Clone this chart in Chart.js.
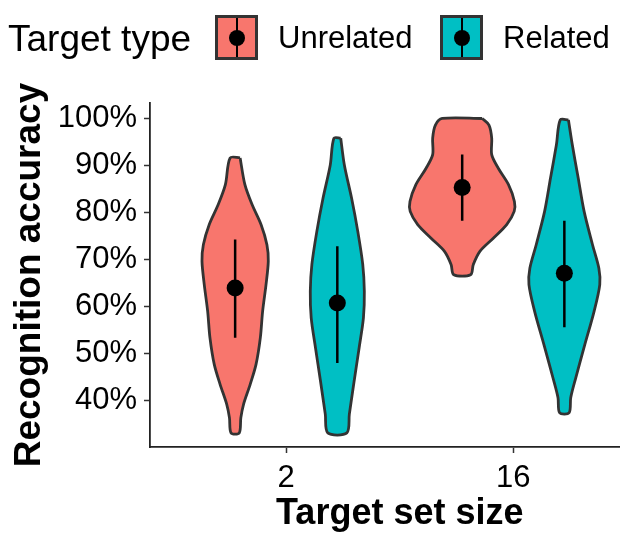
<!DOCTYPE html>
<html lang="en">
<head>
  <meta charset="UTF-8">
  <title>Recognition accuracy</title>
  <script src="https://cdn.jsdelivr.net/npm/chart.js"></script>
  <style>
    body {
      margin: 0;
      background: #ffffff;
      font-family: 'Liberation Sans', Arial, sans-serif;
    }

    .wrap {
      position: relative;
      width: 620px;
      height: 533px;
      overflow: hidden;
    }

    #grafico {
      position: absolute;
      left: 0;
      top: 0;
    }

    .legenda-titulo,
    .legenda-texto {
      position: absolute;
      color: #000;
      white-space: nowrap;
      line-height: 1;
    }

    .legenda-titulo {
      left: 8px;
      top: 20px;
      font-size: 37px;
    }

    .legenda-texto {
      top: 22px;
      font-size: 31px;
    }

    .chave {
      position: absolute;
      top: 15px;
      width: 37px;
      height: 39px;
      border: 3px solid #333;
    }

    .chave::before {
      content: '';
      position: absolute;
      left: 17.5px;
      top: 0;
      width: 2px;
      height: 100%;
      background: #000;
    }

    .chave::after {
      content: '';
      position: absolute;
      left: 10.5px;
      top: 11.5px;
      width: 16px;
      height: 16px;
      border-radius: 50%;
      background: #000;
    }
  </style>
</head>
<body>

<div class="wrap">
  <!-- o painel original continua alem da borda direita; o canvas e cortado -->
  <canvas id="grafico" width="658" height="533"></canvas>
  <div class="legenda-titulo">Target type</div>
  <div class="chave" style="left: 215px; background: #F8766D;"></div>
  <div class="legenda-texto" style="left: 278px;">Unrelated</div>
  <div class="chave" style="left: 440px; background: #00BFC4;"></div>
  <div class="legenda-texto" style="left: 503px;">Related</div>
</div>

<script>
  // categorias
  const tamanhos = ['2', '16'];
  const tipos = ['Unrelated', 'Related'];
  const cores = ['#F8766D', '#00BFC4'];
  const yTicks = [40, 50, 60, 70, 80, 90, 100];

  // perfil dos violinos: nivel (%) e meia-largura (unidades do eixo x)
  const nivUnrel2 = [91.6, 85.9, 81.6, 77.4, 73.1, 69.6, 64.6, 58.9, 53.3, 47.6, 43.3, 39.1, 36.2, 33.0];
  const largUnrel2 = [0.022, 0.043, 0.075, 0.114, 0.140, 0.146, 0.136, 0.121, 0.111, 0.092, 0.066, 0.037, 0.025, 0.018];

  const nivRel2 = [95.8, 90.1, 83.0, 76.0, 68.9, 63.2, 57.5, 51.1, 44.0, 37.0, 33.0];
  const largRel2 = [0.015, 0.031, 0.063, 0.090, 0.112, 0.119, 0.115, 0.096, 0.074, 0.053, 0.042];

  const nivUnrel16 = [100, 98.6, 95.8, 92.3, 89.4, 85.9, 82.3, 80.2, 77.4, 74.5, 71.7, 68.9, 66.7];
  const largUnrel16 = [0.088, 0.118, 0.130, 0.130, 0.159, 0.204, 0.230, 0.229, 0.196, 0.137, 0.078, 0.049, 0.037];

  const nivRel16 = [99.7, 94.4, 87.3, 80.2, 73.1, 68.1, 64.6, 58.9, 51.8, 44.7, 40.5, 37.3];
  const largRel16 = [0.018, 0.035, 0.061, 0.087, 0.124, 0.152, 0.156, 0.131, 0.090, 0.050, 0.028, 0.021];

  // media e intervalo (ordem: Unrel 2, Rel 2, Unrel 16, Rel 16)
  const medias = [63.9, 60.7, 85.3, 67.0];
  const erroMin = [53.3, 47.9, 78.2, 55.5];
  const erroMax = [74.2, 72.8, 92.3, 78.2];

  const violinos = [
    { niv: nivUnrel2, larg: largUnrel2, grupo: 0, tipo: 0 },
    { niv: nivRel2, larg: largRel2, grupo: 0, tipo: 1 },
    { niv: nivUnrel16, larg: largUnrel16, grupo: 1, tipo: 0 },
    { niv: nivRel16, larg: largRel16, grupo: 1, tipo: 1 }
  ];

  const dodge = 0.225;
  function centro(v) {
    return (v.grupo + 1) + (v.tipo === 0 ? -dodge : dodge);
  }

  function contorno(v) {
    const c = centro(v);
    const pts = [];
    v.niv.forEach((y, i) => pts.push({ x: c + v.larg[i], y: y }));
    for (let i = v.niv.length - 1; i >= 0; i--) {
      pts.push({ x: c - v.larg[i], y: v.niv[i] });
    }
    pts.push(pts[0]);
    return pts;
  }

  const datasets = [];

  // pontos das medias (por cima)
  datasets.push({
    type: 'scatter',
    data: violinos.map((v, i) => ({ x: centro(v), y: medias[i] })),
    pointRadius: 8.5,
    pointBackgroundColor: '#000',
    pointBorderWidth: 0
  });

  // barras de erro
  violinos.forEach((v, i) => {
    datasets.push({
      type: 'line',
      data: [{ x: centro(v), y: erroMin[i] }, { x: centro(v), y: erroMax[i] }],
      borderColor: '#000',
      borderWidth: 2.5,
      pointRadius: 0,
      fill: false
    });
  });

  // violinos
  violinos.forEach(v => {
    datasets.push({
      type: 'line',
      data: contorno(v),
      borderColor: '#333333',
      borderWidth: 2.8,
      backgroundColor: cores[v.tipo],
      pointRadius: 0,
      tension: 0.3,
      fill: 'shape'
    });
  });

  const fonte = "'Liberation Sans', Arial, sans-serif";

  new Chart(document.getElementById('grafico').getContext('2d'), {
    type: 'scatter',
    data: { datasets: datasets },
    options: {
      responsive: false,
      animation: false,
      layout: { padding: { top: 103, right: 0, bottom: 0, left: 0 } },
      plugins: {
        legend: { display: false },
        tooltip: { enabled: false }
      },
      scales: {
        x: {
          type: 'linear',
          min: 0.4,
          max: 2.6,
          afterFit: scale => { scale.height = 86; },
          afterBuildTicks: scale => {
            scale.ticks = tamanhos.map((t, i) => ({ value: i + 1 }));
          },
          ticks: {
            callback: (val) => tamanhos[Math.round(val) - 1],
            font: { family: fonte, size: 31 },
            color: '#000',
            padding: 7,
            maxRotation: 0,
            autoSkip: false
          },
          grid: {
            drawOnChartArea: false,
            drawTicks: true,
            tickLength: 6,
            tickWidth: 1.5,
            tickColor: '#333'
          },
          border: { display: true, color: '#222', width: 1.8 },
          title: {
            display: true,
            text: 'Target set size',
            color: '#000',
            font: { family: fonte, size: 36, weight: 'bold', lineHeight: 1 },
            padding: { top: 0, bottom: 1 }
          }
        },
        y: {
          min: 30,
          max: 103.3,
          afterFit: scale => { scale.width = 150; },
          afterBuildTicks: scale => {
            scale.ticks = yTicks.map(v => ({ value: v }));
          },
          ticks: {
            callback: (val) => val + '%',
            font: { family: fonte, size: 31 },
            color: '#000',
            padding: 7
          },
          grid: {
            drawOnChartArea: false,
            drawTicks: true,
            tickLength: 6,
            tickWidth: 1.5,
            tickColor: '#333'
          },
          border: { display: true, color: '#222', width: 1.8 },
          title: {
            display: true,
            text: 'Recognition accuracy',
            color: '#000',
            font: { family: fonte, size: 37, weight: 'bold' },
            padding: { top: 8, bottom: 0 }
          }
        }
      }
    }
  });
</script>

</body>
</html>
